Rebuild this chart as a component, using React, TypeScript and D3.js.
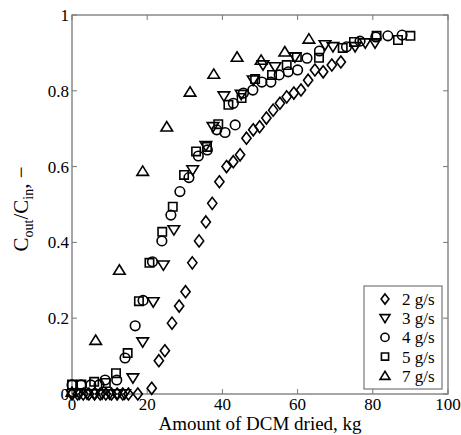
import React from "react";
import * as d3 from "d3";

// 2 g/s (diamonds)
const x2 = [0, 1.5, 3, 4.5, 6, 7.5, 9, 10.5, 12, 13.5, 15, 17.5, 21.2, 23.1, 24.7, 26.6, 28.5, 30.2, 32, 33.8, 35.6, 37.3, 39.2, 41.1, 42.9, 44.7, 46.4, 48.2, 49.9, 51.7, 53.5, 55.3, 57.1, 59, 60.9, 62.8, 64.6, 66.8, 69.1, 71.5];
const y2 = [0, 0, 0, 0, 0, 0, 0, 0, 0, 0, 0, 0, 0.015, 0.088, 0.114, 0.187, 0.232, 0.27, 0.346, 0.404, 0.454, 0.503, 0.56, 0.6, 0.613, 0.631, 0.675, 0.697, 0.705, 0.728, 0.749, 0.767, 0.784, 0.794, 0.802, 0.828, 0.855, 0.85, 0.868, 0.876];
// 3 g/s (down triangles)
const x3 = [0, 2, 4, 6, 8, 10, 12, 14, 16.2, 18.8, 21.6, 24.3, 27.1, 32.1, 35.6, 37.5, 40.4, 45, 48.2, 50.8, 54, 59.3, 67.3, 69.4, 75.3, 78, 80.6];
const y3 = [0, 0, 0, 0, 0, 0, 0, 0, 0.042, 0.137, 0.243, 0.34, 0.433, 0.591, 0.655, 0.705, 0.786, 0.79, 0.828, 0.868, 0.863, 0.889, 0.921, 0.916, 0.916, 0.926, 0.926];
// 4 g/s (circles)
const x4 = [0, 2.4, 5, 7.2, 8.8, 11.9, 14.1, 16.8, 18.9, 21.4, 23.9, 26.3, 28.7, 31.1, 33.6, 36, 38.5, 40.7, 43.4, 42.9, 45.6, 48.1, 50.5, 52.9, 55.1, 57.5, 60, 62.5, 65.8, 73, 76.6, 80.8, 84, 87.8];
const y4 = [0.024, 0.024, 0.024, 0.024, 0.037, 0.037, 0.095, 0.18, 0.247, 0.349, 0.404, 0.472, 0.534, 0.571, 0.628, 0.644, 0.697, 0.69, 0.71, 0.767, 0.794, 0.802, 0.823, 0.823, 0.842, 0.85, 0.855, 0.886, 0.905, 0.916, 0.931, 0.942, 0.945, 0.947];
// 5 g/s (squares)
const x5 = [0, 2.5, 5.9, 9, 11.7, 14.8, 17.8, 20.6, 24, 26.8, 29.8, 33, 35.9, 38.9, 41.6, 45.1, 48.7, 53.2, 57.1, 59.8, 65.7, 72, 75, 81, 86.7, 90];
const y5 = [0.025, 0.025, 0.032, 0.029, 0.055, 0.108, 0.245, 0.346, 0.428, 0.494, 0.578, 0.64, 0.652, 0.712, 0.763, 0.781, 0.831, 0.842, 0.868, 0.889, 0.887, 0.913, 0.929, 0.945, 0.934, 0.945];
// 7 g/s (up triangles)
const x7 = [0, 6.3, 12.6, 18.8, 25.2, 31.4, 37.7, 43.9, 50.3, 56.6, 63];
const y7 = [0.005, 0.142, 0.327, 0.588, 0.705, 0.797, 0.844, 0.889, 0.881, 0.903, 0.937];

const legendLabels = ["2 g/s", "3 g/s", "4 g/s", "5 g/s", "7 g/s"];
const xTicks = [0, 20, 40, 60, 80, 100];
const yTicks = [0, 0.2, 0.4, 0.6, 0.8, 1];

type Shape = "diamond" | "down" | "circle" | "square" | "up";

function markerPath(shape: Shape, s = 1): string {
  const p = d3.path();
  if (shape === "diamond") {
    p.moveTo(0, -6 * s); p.lineTo(4.6 * s, 0); p.lineTo(0, 6 * s); p.lineTo(-4.6 * s, 0); p.closePath();
  } else if (shape === "down") {
    p.moveTo(-5.8 * s, -4.2 * s); p.lineTo(5.8 * s, -4.2 * s); p.lineTo(0, 5.2 * s); p.closePath();
  } else if (shape === "up") {
    p.moveTo(-5.8 * s, 4.2 * s); p.lineTo(5.8 * s, 4.2 * s); p.lineTo(0, -5.2 * s); p.closePath();
  } else if (shape === "square") {
    p.rect(-4.2 * s, -4.2 * s, 8.4 * s, 8.4 * s);
  } else {
    p.arc(0, 0, 4.8 * s, 0, 2 * Math.PI);
  }
  return p.toString();
}

const series: { xs: number[]; ys: number[]; shape: Shape }[] = [
  { xs: x2, ys: y2, shape: "diamond" },
  { xs: x3, ys: y3, shape: "down" },
  { xs: x4, ys: y4, shape: "circle" },
  { xs: x5, ys: y5, shape: "square" },
  { xs: x7, ys: y7, shape: "up" },
];

export default function App() {
  const width = 461;
  const height = 435;
  const m = { left: 72, right: 13, top: 15, bottom: 41 };
  const x = d3.scaleLinear().domain([0, 100]).range([m.left, width - m.right]);
  const y = d3.scaleLinear().domain([0, 1]).range([height - m.bottom, m.top]);
  const font = "'Liberation Serif', 'Times New Roman', serif";
  const axisColor = "#777";

  return (
    <svg width={width} height={height} style={{ position: "absolute", left: 0, top: 0, background: "#fff" }} fontFamily={font} fill="#000">
      <rect x={m.left} y={m.top} width={x(100) - x(0)} height={y(0) - y(1)} fill="none" stroke={axisColor} strokeWidth={1.3} />
      {xTicks.map((t) => (
        <g key={"x" + t}>
          <line x1={x(t)} x2={x(t)} y1={y(0)} y2={y(0) - 5} stroke={axisColor} />
          <line x1={x(t)} x2={x(t)} y1={y(1)} y2={y(1) + 5} stroke={axisColor} />
          <text x={x(t)} y={y(0) + 16} textAnchor="middle" fontSize={17} fill="#000">{t}</text>
        </g>
      ))}
      {yTicks.map((t) => (
        <g key={"y" + t}>
          <line x1={x(0)} x2={x(0) + 5} y1={y(t)} y2={y(t)} stroke={axisColor} />
          <line x1={x(100)} x2={x(100) - 5} y1={y(t)} y2={y(t)} stroke={axisColor} />
          <text x={x(0) - 3} y={y(t) + 6} textAnchor="end" fontSize={17} fill="#000">{t}</text>
        </g>
      ))}
      {series.map((s, i) => (
        <g key={i}>
          {s.xs.map((v, j) => (
            <path key={j} d={markerPath(s.shape)} transform={`translate(${x(v)},${y(s.ys[j])})`} fill="none" stroke="#000" strokeWidth={1.6} />
          ))}
        </g>
      ))}
      <g>
        <rect x={364} y={286} width={78} height={103} fill="#fff" stroke={axisColor} strokeWidth={1.2} />
        {legendLabels.map((l, i) => (
          <g key={l} transform={`translate(0,${299 + i * 19.2})`}>
            <path d={markerPath(series[i].shape, 0.85)} transform="translate(385,0)" fill="none" stroke="#000" strokeWidth={1.6} />
            <text x={402} y={6} fontSize={17} fill="#000">{l}</text>
          </g>
        ))}
      </g>
      <text x={260} y={430} textAnchor="middle" fontSize={19} fill="#000">Amount of DCM dried, kg</text>
      <text transform="translate(28,209) rotate(-90)" textAnchor="middle" fontSize={21} fill="#000">
        C<tspan fontSize={14} dy={5}>out</tspan><tspan dy={-5}>/C</tspan><tspan fontSize={14} dy={5}>in</tspan><tspan dy={-5}>, −</tspan>
      </text>
    </svg>
  );
}
